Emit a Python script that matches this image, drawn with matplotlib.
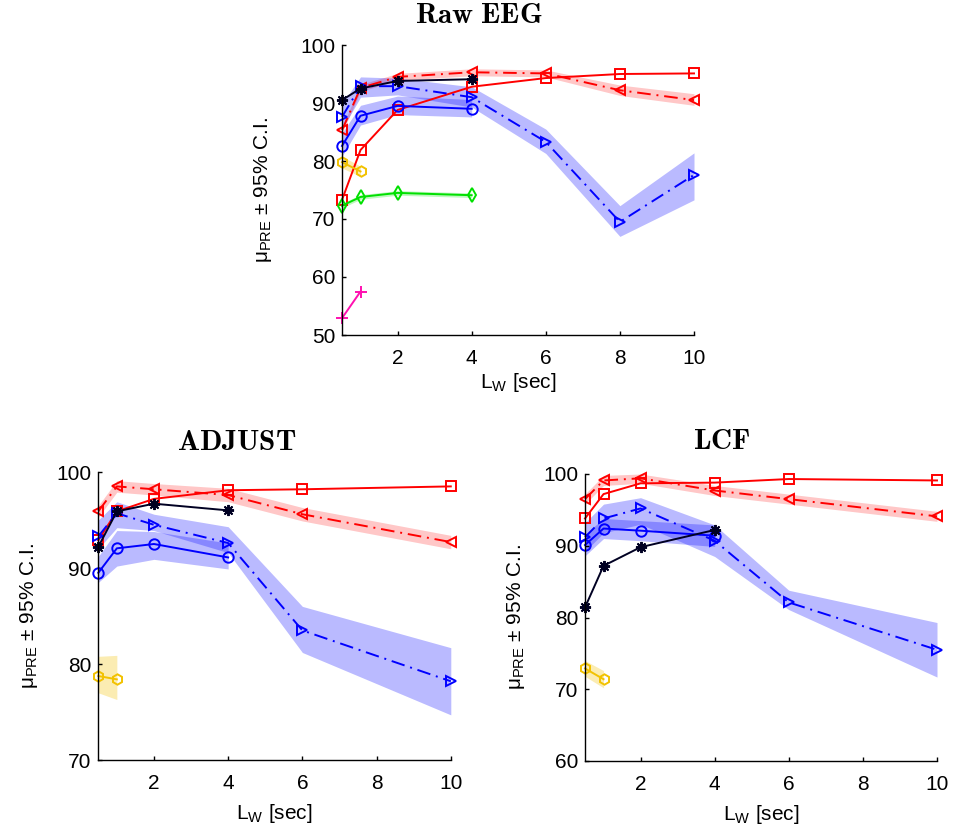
import matplotlib
matplotlib.use('Agg')
import matplotlib.pyplot as plt

plt.rcParams['font.family'] = ['Liberation Sans', 'DejaVu Sans']

# x axis: window length
x_raw = [0.5, 1, 2, 4, 6, 8, 10]
x_sub = [0.5, 1, 2, 4, 6, 10]
x_short = [0.5, 1, 2, 4]
x_two = [0.5, 1]

# Raw EEG
raw_sq = [73.3, 81.9, 88.8, 92.8, 94.3, 95.0, 95.1]
raw_tl = [85.3, 92.6, 94.5, 95.3, 95.1, 92.2, 90.5]
raw_tl_lo = [84.8, 92.0, 93.9, 94.7, 94.5, 91.3, 89.6]
raw_tl_hi = [85.8, 93.2, 95.1, 95.9, 95.7, 93.1, 91.6]
raw_star = [90.5, 92.5, 93.8, 94.1]
raw_tr = [87.6, 92.9, 92.9, 91.0, 83.3, 69.5, 77.6]
raw_tr_lo = [85.5, 91.0, 91.4, 89.3, 81.3, 67.0, 73.3]
raw_tr_hi = [89.8, 94.5, 94.3, 92.8, 85.5, 72.3, 81.4]
raw_circ = [82.6, 87.8, 89.5, 89.0]
raw_circ_lo = [80.8, 86.2, 88.0, 87.6]
raw_circ_hi = [84.8, 89.6, 91.2, 90.6]
raw_hex = [79.8, 78.2]
raw_hex_lo = [78.8, 77.3]
raw_hex_hi = [80.8, 79.1]
raw_dia = [72.3, 73.8, 74.5, 74.1]
raw_dia_lo = [71.9, 73.4, 74.1, 73.7]
raw_dia_hi = [72.7, 74.2, 74.9, 74.5]
raw_plus = [52.9, 57.5]

# ADJUST
adj_sq = [92.9, 95.9, 97.2, 98.1, 98.2, 98.5]
adj_tl = [95.9, 98.5, 98.2, 97.6, 95.6, 92.7]
adj_tl_lo = [95.3, 97.9, 97.6, 96.9, 94.9, 92.0]
adj_tl_hi = [96.5, 99.1, 98.8, 98.3, 96.3, 93.4]
adj_star = [92.2, 95.9, 96.7, 96.0]
adj_tr = [93.3, 95.7, 94.5, 92.6, 83.5, 78.2]
adj_tr_lo = [92.0, 94.2, 93.9, 91.6, 81.2, 74.7]
adj_tr_hi = [95.0, 96.9, 95.6, 94.3, 86.0, 81.7]
adj_circ = [89.5, 92.05, 92.5, 91.1]
adj_circ_lo = [88.5, 90.2, 90.9, 89.9]
adj_circ_hi = [91.2, 93.9, 93.8, 92.6]
adj_hex = [78.75, 78.4]
adj_hex_lo = [77.0, 76.3]
adj_hex_hi = [80.8, 80.9]

# LCF
lcf_sq = [93.8, 97.2, 98.7, 98.8, 99.3, 99.1]
lcf_tl = [96.5, 99.1, 99.4, 97.7, 96.5, 94.1]
lcf_tl_lo = [95.8, 98.4, 98.7, 97.0, 95.8, 93.4]
lcf_tl_hi = [97.2, 99.8, 100.0, 98.4, 97.2, 94.8]
lcf_star = [81.4, 87.2, 89.8, 92.2]
lcf_tr = [91.2, 93.8, 95.2, 90.7, 82.1, 75.5]
lcf_tr_lo = [89.2, 91.8, 93.0, 88.5, 81.1, 71.7]
lcf_tr_hi = [93.2, 95.8, 96.7, 92.9, 83.8, 79.3]
lcf_circ = [90.1, 92.4, 92.1, 91.4]
lcf_circ_lo = [88.6, 91.0, 90.7, 89.9]
lcf_circ_hi = [91.6, 93.8, 93.5, 92.9]
lcf_hex = [72.9, 71.4]
lcf_hex_lo = [71.8, 70.2]
lcf_hex_hi = [74.0, 72.6]

RED = '#ff0000'
BLUE = '#0000ff'
DARK = '#000022'
GREEN = '#00e000'
GOLD = '#f2c200'
MAG = '#ff10b0'
DASHDOT = (0, (7, 3, 1, 3))


def shade(ax, x, lo, hi, c, a):
    ax.fill_between(x, lo, hi, color=c, alpha=a, linewidth=0)


def line(ax, x, y, c, m, ls='-', ms=7.5):
    ax.plot(x, y, color=c, linestyle=ls, linewidth=1.4, marker=m,
            markersize=ms, markerfacecolor='none', markeredgecolor=c,
            markeredgewidth=1.4, clip_on=False)


def style(ax, yticks):
    ax.spines['top'].set_visible(False)
    ax.spines['right'].set_visible(False)
    ax.spines['left'].set_linewidth(1.0)
    ax.spines['bottom'].set_linewidth(1.0)
    ax.set_xlim(0.5, 10)
    ax.set_ylim(yticks[0], yticks[-1])
    ax.set_xticks([2, 4, 6, 8, 10])
    ax.set_yticks(yticks)
    ax.tick_params(direction='in', length=3, width=1, labelsize=15, pad=5)
    ax.tick_params(axis='x', pad=10)
    ax.set_xlabel(r'L$_{\mathregular{W}}$ [sec]', fontsize=15)
    ax.set_ylabel(r'μ$_{\mathregular{PRE}}$ ± 95% C.I.', fontsize=15)


fig = plt.figure(figsize=(9.55, 8.32), dpi=100)

# ---- Raw EEG
ax1 = fig.add_axes([342 / 955, 1 - 335 / 832, 352 / 955, 290 / 832])
shade(ax1, x_raw, raw_tl_lo, raw_tl_hi, RED, 0.22)
shade(ax1, x_raw, raw_tr_lo, raw_tr_hi, BLUE, 0.27)
shade(ax1, x_short, raw_circ_lo, raw_circ_hi, BLUE, 0.27)
shade(ax1, x_two, raw_hex_lo, raw_hex_hi, GOLD, 0.3)
shade(ax1, x_short, raw_dia_lo, raw_dia_hi, GREEN, 0.25)
line(ax1, x_raw, raw_sq, RED, 's')
line(ax1, x_raw, raw_tl, RED, '<', DASHDOT)
line(ax1, x_raw, raw_tr, BLUE, '>', DASHDOT)
line(ax1, x_short, raw_circ, BLUE, 'o')
line(ax1, x_short, raw_star, DARK, (8, 2, 0), ms=8)
line(ax1, x_two, raw_hex, GOLD, 'h')
line(ax1, x_short, raw_dia, GREEN, 'd')
line(ax1, x_two, raw_plus, MAG, '+', ms=9)
style(ax1, [50, 60, 70, 80, 90, 100])
ax1.xaxis.set_label_coords(0.5, -0.125)
ax1.yaxis.set_label_coords(-0.194, 0.5)

# ---- ADJUST
ax2 = fig.add_axes([98.3 / 955, 1 - 760 / 832, 352.5 / 955, 288 / 832])
shade(ax2, x_sub, adj_tl_lo, adj_tl_hi, RED, 0.22)
shade(ax2, x_sub, adj_tr_lo, adj_tr_hi, BLUE, 0.27)
shade(ax2, x_short, adj_circ_lo, adj_circ_hi, BLUE, 0.27)
shade(ax2, x_two, adj_hex_lo, adj_hex_hi, GOLD, 0.3)
line(ax2, x_sub, adj_sq, RED, 's')
line(ax2, x_sub, adj_tl, RED, '<', DASHDOT)
line(ax2, x_sub, adj_tr, BLUE, '>', DASHDOT)
line(ax2, x_short, adj_circ, BLUE, 'o')
line(ax2, x_short, adj_star, DARK, (8, 2, 0), ms=8)
line(ax2, x_two, adj_hex, GOLD, 'h')
style(ax2, [70, 80, 90, 100])
ax2.xaxis.set_label_coords(0.5, -0.145)
ax2.yaxis.set_label_coords(-0.165, 0.5)

# ---- LCF
ax3 = fig.add_axes([585 / 955, 1 - 761 / 832, 352 / 955, 287 / 832])
shade(ax3, x_sub, lcf_tl_lo, lcf_tl_hi, RED, 0.22)
shade(ax3, x_sub, lcf_tr_lo, lcf_tr_hi, BLUE, 0.27)
shade(ax3, x_short, lcf_circ_lo, lcf_circ_hi, BLUE, 0.27)
shade(ax3, x_two, lcf_hex_lo, lcf_hex_hi, GOLD, 0.3)
line(ax3, x_sub, lcf_sq, RED, 's')
line(ax3, x_sub, lcf_tl, RED, '<', DASHDOT)
line(ax3, x_sub, lcf_tr, BLUE, '>', DASHDOT)
line(ax3, x_short, lcf_circ, BLUE, 'o')
line(ax3, x_short, lcf_star, DARK, (8, 2, 0), ms=8)
line(ax3, x_two, lcf_hex, GOLD, 'h')
style(ax3, [60, 70, 80, 90, 100])
ax3.xaxis.set_label_coords(0.5, -0.145)
ax3.yaxis.set_label_coords(-0.165, 0.5)

# titles
fig.text(479 / 955, 1 - 15 / 832, r'$\mathbf{Raw\ EEG}$', fontsize=21,
         ha='center', va='center', math_fontfamily='cm')
fig.text(236.7 / 955, 1 - 441.5 / 832, r'$\mathbf{ADJUST}$', fontsize=21,
         ha='center', va='center', math_fontfamily='cm')
fig.text(722 / 955, 1 - 441 / 832, r'$\mathbf{LCF}$', fontsize=21,
         ha='center', va='center', math_fontfamily='cm')

fig.savefig('out.png', dpi=100)
